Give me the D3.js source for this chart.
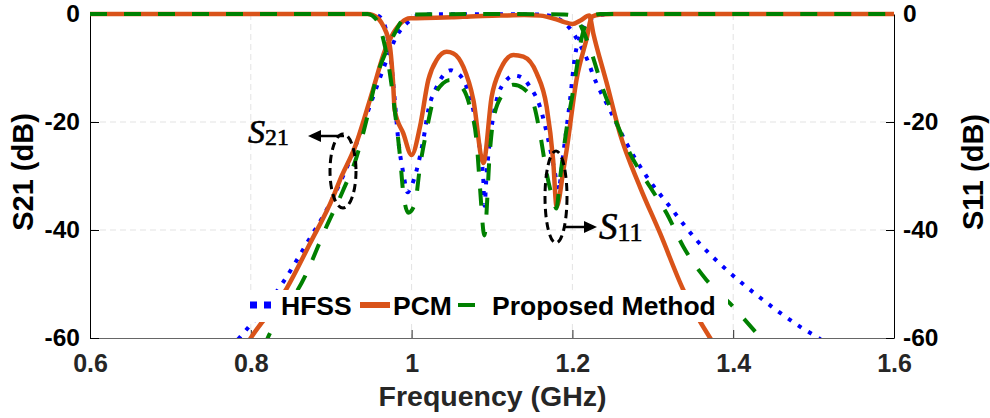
<!doctype html>
<html lang="en">
<head>
<meta charset="utf-8">
<title>S-parameters</title>
<style>
  body { margin: 0; background: #fff; }
  svg { display: block; }
  .tick text { font-family: "Liberation Sans", Arial, sans-serif; font-weight: bold; }
  .grid line { stroke: #e3e3e3; stroke-dasharray: 6,4; stroke-width: 1; }
</style>
</head>
<body>
<div id="chart"></div>
<script src="https://cdn.jsdelivr.net/npm/d3@7"></script>
<script>
// tick values
const xTicks = [0.6, 0.8, 1.0, 1.2, 1.4, 1.6];
const yTicks = [0, -20, -40, -60];

// [frequency GHz, dB]
const hfssS21 = [[0.775,-62],[0.7845,-60.2],[0.80,-57.5],[0.8405,-49.6],[0.8695,-42.5],[0.8985,-35.1],[0.9275,-25.5],[0.952,-15.4],[0.969,-8.5],[0.981,-4.2],[0.994,-1.7],[1.01,-0.2],[1.03,-0.05],[1.10,-0.05],[1.16,-0.1],[1.17,-0.25],[1.18,-0.7],[1.19,-1.6],[1.197,-2.7],[1.2095,-5.7],[1.22,-9],[1.226,-11.4],[1.2468,-17.8],[1.2675,-24],[1.2924,-30.1],[1.3214,-35.7],[1.3546,-41.9],[1.3919,-47.4],[1.4333,-52.5],[1.483,-57.9],[1.506,-60],[1.52,-61.5]];
const hfssS11 = [[0.6,0],[0.95,0],[0.958,-0.3],[0.965,-1.5],[0.971,-5],[0.975,-9.5],[0.979,-15.9],[0.9834,-23.3],[0.9897,-29.5],[0.995,-33],[1.0,-31.8],[1.0063,-28.9],[1.0146,-23.3],[1.0208,-17.8],[1.0312,-13.5],[1.0436,-10.7],[1.049,-10.4],[1.054,-10.7],[1.0664,-12.8],[1.0768,-17.8],[1.085,-25.2],[1.0892,-30.7],[1.0905,-35.5],[1.0934,-29.5],[1.0996,-20.9],[1.1058,-15.9],[1.1182,-12.2],[1.127,-11.4],[1.1349,-11.6],[1.1473,-13.5],[1.1597,-17.2],[1.17,-23.3],[1.1784,-29.5],[1.1825,-32.6],[1.1887,-25.8],[1.197,-16],[1.203,-8],[1.21,-4],[1.218,-1.5],[1.234,-0.2],[1.25,0],[1.6,0]];

const pcmS21 = [[0.78,-65],[0.80,-60],[0.8447,-50.8],[0.8736,-42.5],[0.9026,-33.8],[0.911,-30.7],[0.9296,-24.6],[0.952,-14],[0.967,-6.7],[0.977,-3.6],[0.988,-1.5],[0.998,-0.8],[1.03,-0.7],[1.05,-0.6],[1.08,-0.4],[1.11,-0.3],[1.14,-0.2],[1.16,-0.3],[1.18,-1.0],[1.19,-1.5],[1.2,-1.85],[1.21,-1.2],[1.221,-0.3],[1.226,-3.6],[1.2427,-12.8],[1.259,-22.1],[1.284,-32],[1.309,-40.6],[1.338,-51.1],[1.373,-60.4],[1.38,-62]];
const pcmS11 = [[0.6,0],[0.945,0],[0.952,-0.2],[0.965,-2.3],[0.973,-6],[0.977,-12.8],[0.979,-17.8],[0.9897,-22.1],[1.0,-26.1],[1.0104,-20.9],[1.0208,-12.2],[1.0312,-8.5],[1.0436,-7],[1.052,-7.3],[1.0644,-9.8],[1.0768,-15.9],[1.0892,-27.6],[1.0996,-15.3],[1.11,-10.4],[1.1265,-7.6],[1.139,-7.9],[1.1556,-11],[1.168,-17.2],[1.176,-27],[1.1804,-35.7],[1.1887,-29],[1.193,-25],[1.2053,-12],[1.2178,-4.5],[1.224,-0.5],[1.235,-0.1],[1.25,0],[1.6,0]];

const propS21 = [[0.815,-62],[0.821,-60],[0.8674,-48.6],[0.894,-39.4],[0.915,-32.6],[0.9317,-26.4],[0.944,-19.6],[0.9566,-11.6],[0.969,-6.7],[0.981,-3],[0.99,-0.8],[1.0,-0.1],[1.1,0],[1.19,-0.1],[1.2,-0.3],[1.205,-0.8],[1.213,-3],[1.222,-6.4],[1.2385,-14.1],[1.255,-20.2],[1.2716,-25.8],[1.2965,-32],[1.3172,-36.9],[1.338,-43.1],[1.367,-49.3],[1.396,-53.6],[1.429,-59.1],[1.44,-61]];
const propS11 = [[0.6,0],[0.945,0],[0.9566,-1.1],[0.965,-4.8],[0.973,-11],[0.979,-17.8],[0.9856,-26.4],[0.9897,-33.2],[0.996,-36.8],[1.0042,-35.1],[1.0104,-28.3],[1.0187,-21.5],[1.027,-15.9],[1.0394,-12.8],[1.048,-12.2],[1.06,-13.1],[1.0726,-17.2],[1.081,-23.9],[1.085,-32],[1.0905,-41],[1.0975,-25.2],[1.1016,-19.6],[1.114,-14.7],[1.1265,-13.1],[1.139,-13.8],[1.1514,-16.5],[1.1597,-22.1],[1.168,-29.5],[1.176,-34.4],[1.18,-36],[1.185,-30],[1.193,-21],[1.2,-15],[1.2053,-10],[1.21,-5.5],[1.218,-1.5],[1.226,-0.3],[1.235,0],[1.6,0]];

const legendNames = ['HFSS', 'PCM', 'Proposed Method'];

const W = 990, H = 418;
const m = {left: 90, right: 96, top: 14, bottom: 80};
const pw = W - m.left - m.right, ph = H - m.top - m.bottom;

const svg = d3.select('#chart').append('svg')
  .attr('width', W).attr('height', H);

const x = d3.scaleLinear().domain([0.6, 1.6]).range([m.left, m.left + pw]);
const y = d3.scaleLinear().domain([-60, 0]).range([m.top + ph, m.top]);

// grid
const grid = svg.append('g').attr('class', 'grid');
grid.selectAll('.gx').data(xTicks.slice(1, -1)).join('line')
  .attr('x1', d => x(d)).attr('x2', d => x(d))
  .attr('y1', m.top).attr('y2', m.top + ph);
grid.selectAll('.gy').data(yTicks.slice(1, -1)).join('line')
  .attr('y1', d => y(d)).attr('y2', d => y(d))
  .attr('x1', m.left).attr('x2', m.left + pw);

// axes
const xAxis = svg.append('g')
  .attr('transform', `translate(0,${m.top + ph})`)
  .call(d3.axisBottom(x).tickValues(xTicks).tickFormat(d => String(d))
    .tickSizeInner(-8).tickSizeOuter(0).tickPadding(16));
xAxis.select('.domain').attr('stroke', '#666');
xAxis.selectAll('.tick line').attr('stroke', '#262626');
xAxis.selectAll('.tick text').attr('fill', '#262626').style('font-size', '25px');

const yAxisL = svg.append('g')
  .attr('transform', `translate(${m.left},0)`)
  .call(d3.axisLeft(y).tickValues(yTicks).tickFormat(d => String(d))
    .tickSizeInner(-9).tickSizeOuter(0).tickPadding(10));
const yAxisR = svg.append('g')
  .attr('transform', `translate(${m.left + pw},0)`)
  .call(d3.axisRight(y).tickValues(yTicks).tickFormat(d => String(d))
    .tickSizeInner(-8).tickSizeOuter(0).tickPadding(9));
[yAxisL, yAxisR].forEach(a => {
  a.select('.domain').attr('stroke', '#000');
  a.selectAll('.tick line').attr('stroke', '#000');
  a.selectAll('.tick text').attr('fill', '#000').style('font-size', '24.5px');
});

// curves
svg.append('clipPath').attr('id', 'clip')
  .append('rect').attr('x', m.left).attr('y', m.top - 4).attr('width', pw).attr('height', ph + 4);

const line = d3.line().x(d => x(d[0])).y(d => y(d[1])).curve(d3.curveMonotoneX);

const styles = [
  {color: '#0000ff', width: 4, dash: '4,8'},
  {color: '#d95319', width: 4.5, dash: null},
  {color: '#008000', width: 4, dash: '17,17'}
];
const series = [
  [hfssS21, 0], [hfssS11, 0],
  [pcmS21, 1], [pcmS11, 1],
  [propS21, 2], [propS11, 2]
];
const curves = svg.append('g').attr('clip-path', 'url(#clip)');
series.forEach(([data, k]) => {
  const s = styles[k];
  curves.append('path')
    .attr('d', line(data))
    .attr('fill', 'none')
    .attr('stroke', s.color)
    .attr('stroke-width', s.width)
    .attr('stroke-dasharray', s.dash)
    .attr('stroke-linejoin', 'round');
});

// annotations
const ann = svg.append('g').attr('stroke', '#000').attr('fill', 'none');
ann.append('ellipse').attr('cx', 343).attr('cy', 171).attr('rx', 13).attr('ry', 37)
  .attr('stroke-width', 3).attr('stroke-dasharray', '8,5');
ann.append('ellipse').attr('cx', 556).attr('cy', 197).attr('rx', 11).attr('ry', 46)
  .attr('stroke-width', 3).attr('stroke-dasharray', '8,5');
ann.append('line').attr('x1', 344).attr('y1', 136).attr('x2', 314).attr('y2', 136).attr('stroke-width', 2.5);
ann.append('path').attr('d', 'M308,136 L321,130 L321,142 Z').attr('fill', '#000').attr('stroke', 'none');
ann.append('line').attr('x1', 563).attr('y1', 227).attr('x2', 590).attr('y2', 227).attr('stroke-width', 2.5);
ann.append('path').attr('d', 'M597,227 L584,221 L584,233 Z').attr('fill', '#000').attr('stroke', 'none');

const lab = (xx, yy, main, sub, size) => {
  const t = svg.append('text').attr('x', xx).attr('y', yy)
    .style('font-family', '"Liberation Serif", "Times New Roman", serif')
    .style('font-size', size + 'px').attr('fill', '#000')
    .attr('stroke', '#000').attr('stroke-width', 0.6);
  t.append('tspan').style('font-style', 'italic').text(main);
  t.append('tspan').attr('dy', 2).style('font-size', (size * 0.7) + 'px').text(sub);
};
lab(248, 143, 'S', '21', 34);
lab(599, 239, 'S', '11', 37);

// legend
const lg = svg.append('g');
lg.append('rect').attr('x', 244).attr('y', 290).attr('width', 484).attr('height', 32).attr('fill', '#fff');
const legItems = [
  {x0: 250, x1: 278, tx: 281, color: '#0000ff', w: 7, dash: '7,7'},
  {x0: 360, x1: 390, tx: 393, color: '#d95319', w: 6, dash: null},
  {x0: 458, x1: 489, tx: 492, color: '#008000', w: 4, dash: '17,17'}
];
legItems.forEach((it, i) => {
  lg.append('line').attr('x1', it.x0).attr('x2', it.x1).attr('y1', 305).attr('y2', 305)
    .attr('stroke', it.color).attr('stroke-width', it.w).attr('stroke-dasharray', it.dash);
  lg.append('text').attr('x', it.tx).attr('y', 315)
    .style('font-family', '"Liberation Sans", Arial, sans-serif').style('font-weight', 'bold')
    .style('font-size', '26.5px').attr('fill', '#000').text(legendNames[i]);
});

// axis titles
svg.append('text').attr('x', x(1.0) + 81).attr('y', 406).attr('text-anchor', 'middle')
  .style('font-family', '"Liberation Sans", Arial, sans-serif').style('font-weight', 'bold')
  .style('font-size', '28.5px').attr('fill', '#262626').text('Frequency (GHz)');
svg.append('text').attr('transform', 'translate(33,172) rotate(-90)')
  .attr('text-anchor', 'middle')
  .style('font-family', '"Liberation Sans", Arial, sans-serif').style('font-weight', 'bold')
  .style('font-size', '29px').attr('fill', '#000').text('S21 (dB)');
svg.append('text').attr('transform', 'translate(983,172) rotate(-90)')
  .attr('text-anchor', 'middle')
  .style('font-family', '"Liberation Sans", Arial, sans-serif').style('font-weight', 'bold')
  .style('font-size', '29px').attr('fill', '#000').text('S11 (dB)');
</script>
</body>
</html>
